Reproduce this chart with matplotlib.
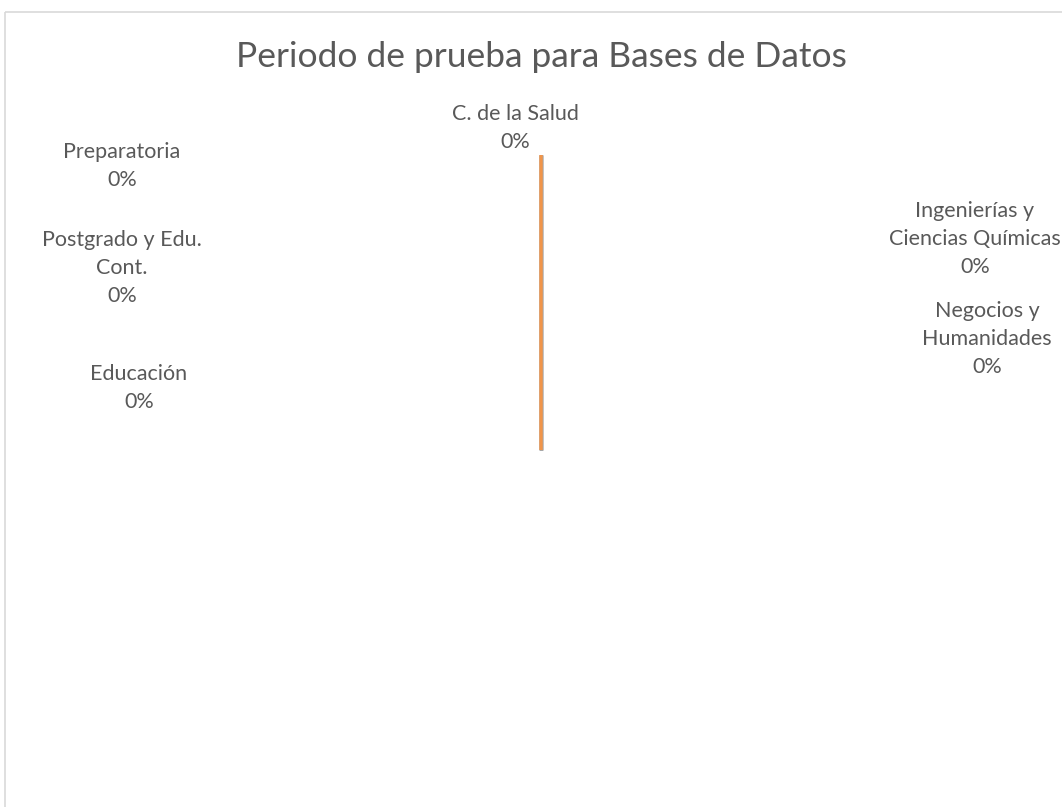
import matplotlib.pyplot as plt
from matplotlib.patches import Rectangle
import numpy as np

plt.rcParams['font.family'] = ['Lato', 'DejaVu Sans']

# Data: every category is at 0 (empty pie)
categorias = ['C. de la Salud', 'Ingenierías y\nCiencias Químicas',
              'Negocios y\nHumanidades', 'Educación',
              'Postgrado y Edu.\nCont.', 'Preparatoria']
valores = [0, 0, 0, 0, 0, 0]

# label anchor positions (pixels, centre of the text block)
label_pos = [(515, 128), (975, 239), (987, 339), (139, 388), (122, 268), (122, 166)]

W, H = 1062, 807
fig = plt.figure(figsize=(W / 100, H / 100), dpi=100)
ax = fig.add_axes([0, 0, 1, 1])
ax.set_xlim(0, W)
ax.set_ylim(H, 0)
ax.axis('off')

# chart frame
ax.add_patch(Rectangle((4.5, 11.5), W, H, fill=False, edgecolor='#D9D9D9', lw=1.2))

ax.text(541, 57, 'Periodo de prueba para Bases de Datos', ha='center', va='center',
        fontsize=25.5, color='#595959')

# pie: centre and radius in pixels
cx, cy, r = 541, 450, 295
total = sum(valores)
frac = np.cumsum(valores) / total if total > 0 else np.zeros(len(valores))
for f in frac:
    ang = np.deg2rad(90 - 360 * f)
    ax.plot([cx, cx + r * np.cos(ang)], [cy, cy - r * np.sin(ang)],
            color='#A8A8A8', lw=2.4, solid_capstyle='butt', zorder=2)
    ax.plot([cx + 0.4, cx + 0.4 + r * np.cos(ang)], [cy, cy - r * np.sin(ang)],
            color='#F0954A', lw=1.7, solid_capstyle='butt', zorder=3)

for cat, v, (x, y) in zip(categorias, valores, label_pos):
    pct = v / total * 100 if total > 0 else 0
    ax.text(x, y, f'{cat}\n{pct:.0f}%', ha='center', va='center', fontsize=15.5,
            color='#595959', linespacing=1.5)

fig.savefig('out.png', dpi=100)
